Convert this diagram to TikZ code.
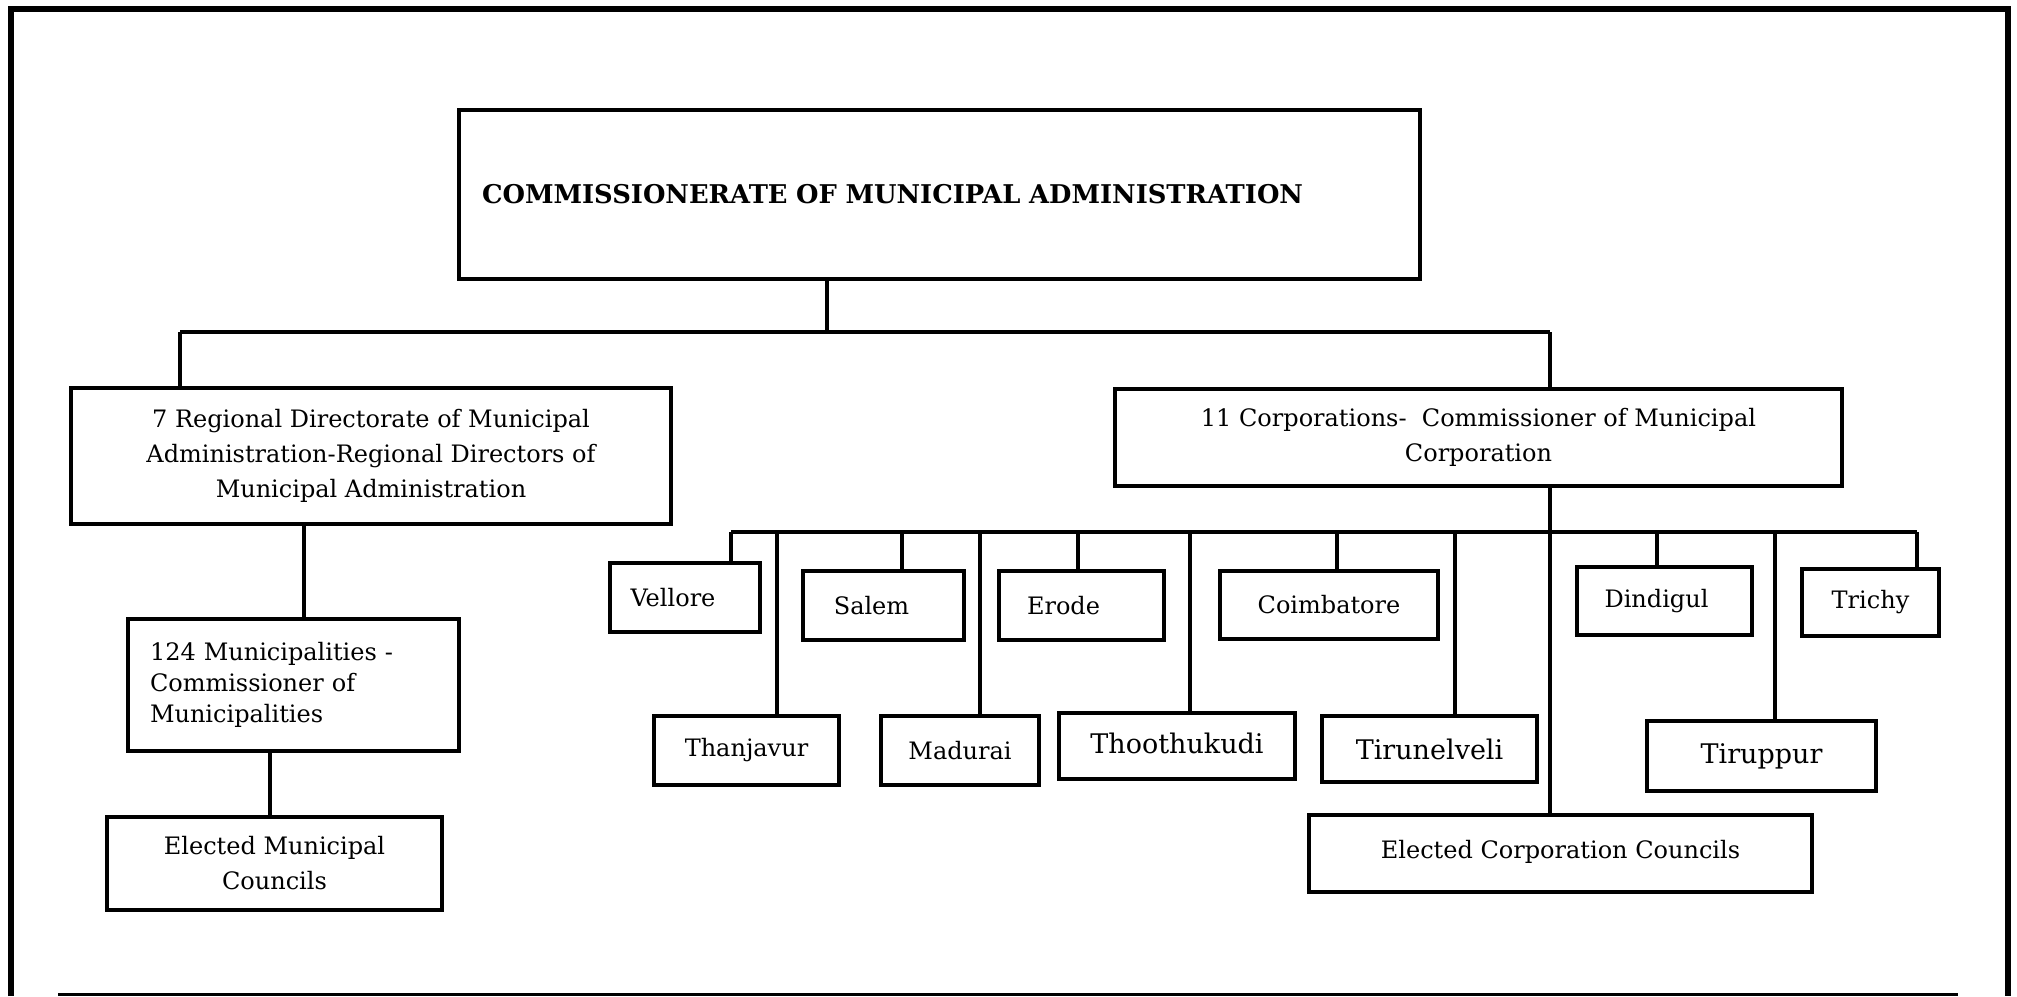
\documentclass[tikz,border=0pt]{standalone}
\usepackage{fontspec}
\setmainfont{DejaVu Serif}
\begin{document}
\begin{tikzpicture}[x=0.5pt,y=-0.5pt,
  orgbox/.style={draw, line width=2pt, inner sep=0pt, anchor=north west,
    align=center, font=\fontsize{12}{17.5}\selectfont},
  boxsize/.style 2 args={minimum width=#1*0.5pt, minimum height=#2*0.5pt},
  bigname/.style={font=\fontsize{13.5}{16}\selectfont},
  link/.style={line width=2pt},
  frameline/.style={line width=3pt}]
\useasboundingbox (0,0) rectangle (2017,996);

% outer frame, open at the bottom, and the rule beneath the chart
\draw[frameline] (11,996) -- (11,9) -- (2008,9) -- (2008,996);
\coordinate (ruleL) at (58,994.5);
\coordinate (ruleR) at (1958,994.5);
\draw[line width=1.5pt] (ruleL) -- (ruleR);

% head office
\node[orgbox, boxsize={961}{169}, text width=457.5pt, align=left,
  font=\bfseries\fontsize{12.9}{16}\selectfont] (top) at (457,108)
  {COMMISSIONERATE OF MUNICIPAL ADMINISTRATION};

% municipal branch
\node[orgbox, boxsize={600}{136}] (reg) at (69,386)
  {7 Regional Directorate of Municipal\\Administration-Regional Directors of\\Municipal Administration};
\node[orgbox, boxsize={331}{132}, text width=143.5pt, align=left,
  font=\fontsize{12}{15.5}\selectfont] (muni) at (126,617)
  {124 Municipalities -\\Commissioner of\\Municipalities};
\node[orgbox, boxsize={335}{93}] (emc) at (105,815)
  {Elected Municipal\\Councils};

% corporation branch
\node[orgbox, boxsize={727}{97}] (corp) at (1113,387)
  {11 Corporations-\ \ Commissioner of Municipal\\Corporation};
\node[orgbox, boxsize={503}{77}] (ecc) at (1307,813)
  {\raisebox{4pt}{Elected Corporation Councils}};

% corporations, upper row
\node[orgbox, boxsize={150}{69}] (vel) at (608,561) {Vellore\hspace{12pt}};
\node[orgbox, boxsize={161}{69}] (sal) at (801,569) {Salem\hspace{12pt}};
\node[orgbox, boxsize={165}{69}] (ero) at (997,569) {Erode\hspace{18pt}};
\node[orgbox, boxsize={218}{68}] (coi) at (1218,569) {Coimbatore};
\node[orgbox, boxsize={175}{68}] (din) at (1575,565) {Dindigul\hspace{8pt}};
\node[orgbox, boxsize={137}{67}] (tri) at (1800,567) {Trichy};

% corporations, lower row
\node[orgbox, boxsize={185}{69}] (tha) at (652,714) {Thanjavur};
\node[orgbox, boxsize={158}{69}] (mad) at (879,714) {Madurai};
\node[orgbox, bigname, boxsize={236}{66}] (tho) at (1057,711) {\raisebox{3pt}{Thoothukudi}};
\node[orgbox, bigname, boxsize={215}{66}] (tir) at (1320,714) {Tirunelveli};
\node[orgbox, bigname, boxsize={229}{70}] (tip) at (1645,719) {Tiruppur};

% links from the head office
\coordinate (topdrop) at (827,277);
\coordinate (lb) at (180,332);
\coordinate (rb) at (1550,332);
\draw[link] (lb) -- (rb);
\draw[link] (topdrop) -- (topdrop |- lb);
\draw[link] (lb) -- (lb |- reg.north);
\draw[link] (rb) -- (rb |- corp.north);

% municipal chain
\coordinate (regdrop) at (304,522);
\draw[link] (regdrop) -- (regdrop |- muni.north);
\coordinate (munidrop) at (270,749);
\draw[link] (munidrop) -- (munidrop |- emc.north);

% corporation bus and its taps
\coordinate (busL) at (731,532);
\coordinate (busR) at (1917,532);
\draw[link] (busL) -- (busR);
\coordinate (corpdrop) at (1550,484);
\draw[link] (corpdrop) -- (corpdrop |- ecc.north);
\foreach \n/\x in {vel/731, sal/902, ero/1078, coi/1337, din/1657, tri/1917,
                   tha/777, mad/980, tho/1190, tir/1455, tip/1775} {
  \coordinate (tap-\n) at (\x,532);
  \draw[link] (tap-\n) -- (tap-\n |- \n.north);
}
\end{tikzpicture}
\end{document}
